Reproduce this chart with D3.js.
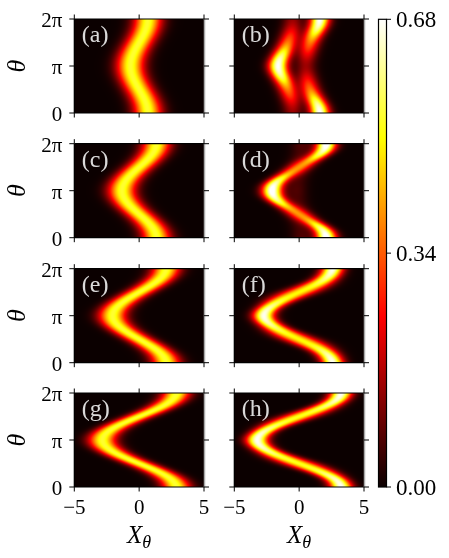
<!DOCTYPE html>
<html>
<head>
<meta charset="utf-8">
<script src="https://cdn.jsdelivr.net/npm/d3@7/dist/d3.min.js"></script>
<style>
  html, body { margin: 0; padding: 0; background: #fff; }
  #wrap { position: relative; width: 449px; height: 558px; overflow: hidden; }
  canvas, svg { position: absolute; left: 0; top: 0; }
  text { font-family: "Liberation Serif", serif; fill: #000; }
</style>
</head>
<body>
<div id="wrap"></div>
<script>
var labels = ["(a)", "(b)", "(c)", "(d)", "(e)", "(f)", "(g)", "(h)"];

// values at theta = 0, pi/8 ... pi; upper half of each panel mirrors the lower half
// single band panels: centre X, peak, width per row
var centreA = [0.68, 0.63, 0.48, 0.26, 0, -0.26, -0.48, -0.63, -0.68];
var centreC = [1.35, 1.25, 0.95, 0.52, 0, -0.52, -0.95, -1.25, -1.35];
var centreE = [2.1, 1.94, 1.48, 0.8, 0, -0.8, -1.48, -1.94, -2.1];
var centreG = [2.9, 2.68, 2.05, 1.11, 0, -1.11, -2.05, -2.68, -2.9];
var centreF = [2.6, 2.4, 1.9, 1.05, 0, -1.05, -1.9, -2.55, -2.8];
var centreH = [3.25, 3.05, 2.33, 1.26, 0, -1.26, -2.33, -3.05, -3.32];

var peakLeft = [0.54, 0.54, 0.54, 0.54, 0.54, 0.54, 0.54, 0.54, 0.54];
var sigmaLeft = [0.75, 0.75, 0.75, 0.75, 0.75, 0.75, 0.75, 0.75, 0.75];

var peakF = [0.68, 0.65, 0.58, 0.52, 0.5, 0.52, 0.58, 0.65, 0.68];
var sigmaF = [0.58, 0.6, 0.68, 0.85, 0.95, 0.85, 0.68, 0.6, 0.58];
var peakH = [0.68, 0.66, 0.6, 0.54, 0.52, 0.54, 0.6, 0.66, 0.68];
var sigmaH = [0.6, 0.6, 0.68, 0.85, 0.95, 0.85, 0.68, 0.6, 0.6];

// two lobe panels
var lobeLeftB = [-0.5, -0.52, -0.6, -0.72, -0.88, -1.08, -1.32, -1.55, -1.65];
var lobeRightB = [1.6, 1.52, 1.3, 1.06, 0.86, 0.72, 0.62, 0.56, 0.52];
var peakLeftB = [0.14, 0.17, 0.24, 0.31, 0.37, 0.46, 0.58, 0.66, 0.69];
var peakRightB = [0.69, 0.66, 0.58, 0.46, 0.37, 0.31, 0.24, 0.17, 0.14];
var sigmaB = [0.52, 0.52, 0.52, 0.52, 0.52, 0.52, 0.52, 0.52, 0.52];

var lobeLeftD = [0.2, 0.15, 0.1, 0, -0.3, -0.8, -1.5, -2, -2.12];
var lobeRightD = [2.1, 2, 1.5, 0.8, 0.3, 0, -0.1, -0.15, -0.2];
var peakLeftD = [0.07, 0.06, 0.06, 0.1, 0.24, 0.4, 0.56, 0.67, 0.72];
var peakRightD = [0.72, 0.67, 0.56, 0.4, 0.24, 0.1, 0.06, 0.06, 0.07];
var sigmaD = [0.55, 0.55, 0.55, 0.55, 0.55, 0.55, 0.55, 0.55, 0.55];

var noLobe = [0, 0, 0, 0, 0, 0, 0, 0, 0];

var xTicks = [-5, 0, 5];
var yTicks = [0, 1, 2];
var yTickLabels = ["0", "\u03c0", "2\u03c0"];
var barTicks = [0, 0.34, 0.68];
var barTickLabels = ["0.00", "0.34", "0.68"];

// matplotlib hot
var hotStops = [0, 0.365, 0.746, 1];
var hotColors = ["#0b0000", "#ff0000", "#ffff00", "#ffffff"];
var vmax = 0.68;

var panels = [
  [centreA, peakLeft, sigmaLeft, noLobe, noLobe],
  [lobeLeftB, peakLeftB, sigmaB, lobeRightB, peakRightB],
  [centreC, peakLeft, sigmaLeft, noLobe, noLobe],
  [lobeLeftD, peakLeftD, sigmaD, lobeRightD, peakRightD],
  [centreE, peakLeft, sigmaLeft, noLobe, noLobe],
  [centreF, peakF, sigmaF, noLobe, noLobe],
  [centreG, peakLeft, sigmaLeft, noLobe, noLobe],
  [centreH, peakH, sigmaH, noLobe, noLobe]
];

var colLeft = [74.3, 234.3], panelW = 129.7;
var rowTop = [19, 143.7, 268.7, 393], panelH = 94;

var color = d3.scaleLinear()
    .domain(hotStops.map(function(d) { return d * vmax; }))
    .range(hotColors)
    .clamp(true);

var wrap = d3.select("#wrap");
var canvas = wrap.append("canvas").attr("width", 449).attr("height", 558);
var ctx = canvas.node().getContext("2d");
var svg = wrap.append("svg").attr("width", 449).attr("height", 558);

// row value lookup over the whole panel, 0 to 2 pi
function rowScale(values) {
  var vals = values.concat(values.slice(0, -1).reverse());
  return d3.scaleSequential(d3.interpolateBasis(vals)).domain([0, 2]);
}

function drawCells(p, x, y) {
  var c1 = rowScale(p[0]), h1 = rowScale(p[1]), s = rowScale(p[2]), c2 = rowScale(p[3]), h2 = rowScale(p[4]);
  var x0 = Math.round(x.range()[0]), x1 = Math.round(x.range()[1]);
  var y0 = Math.round(y.range()[1]), y1 = Math.round(y.range()[0]);
  for (var py = y0; py < y1; py++) {
    var t = y.invert(py + 0.5);
    for (var px = x0; px < x1; px++) {
      var v = x.invert(px + 0.5);
      var a = (v - c1(t)) / s(t), b = (v - c2(t)) / s(t);
      ctx.fillStyle = color(h1(t) * Math.exp(-a * a / 2) + h2(t) * Math.exp(-b * b / 2));
      ctx.fillRect(px, py, 1, 1);
    }
  }
}

function tickSet(g, ticks, pos, horizontal, size) {
  g.selectAll("line").data(ticks).enter().append("line")
    .attr("x1", function(d) { return horizontal ? pos(d) : 0; })
    .attr("x2", function(d) { return horizontal ? pos(d) : size; })
    .attr("y1", function(d) { return horizontal ? 0 : pos(d); })
    .attr("y2", function(d) { return horizontal ? size : pos(d); })
    .attr("stroke", "#000")
    .attr("stroke-width", 1);
}

panels.forEach(function(p, i) {
  var col = i % 2, row = Math.floor(i / 2);
  var left = colLeft[col], top = rowTop[row];

  var x = d3.scaleLinear().domain([-5, 5]).range([left, left + panelW]);
  var y = d3.scaleLinear().domain([0, 2]).range([top + panelH, top]);

  drawCells(p, x, y);

  var g = svg.append("g");

  // top and bottom spines are heavier than the ticks
  g.append("line").attr("x1", left).attr("x2", left + panelW).attr("y1", top).attr("y2", top)
    .attr("stroke", "#000").attr("stroke-width", 1.2);
  g.append("line").attr("x1", left).attr("x2", left + panelW).attr("y1", top + panelH).attr("y2", top + panelH)
    .attr("stroke", "#000").attr("stroke-width", 1.2);
  g.append("line").attr("x1", left).attr("x2", left).attr("y1", top).attr("y2", top + panelH)
    .attr("stroke", "#000").attr("stroke-width", 1.2);
  g.append("line").attr("x1", left + panelW + 0.5).attr("x2", left + panelW + 0.5).attr("y1", top).attr("y2", top + panelH)
    .attr("stroke", "#aaa").attr("stroke-width", 1.5);

  tickSet(g.append("g").attr("transform", "translate(0," + (top - 4.5) + ")"), xTicks, x, true, 4.5);
  tickSet(g.append("g").attr("transform", "translate(0," + (top + panelH) + ")"), xTicks, x, true, 4.5);
  tickSet(g.append("g").attr("transform", "translate(" + (left - 5) + ",0)"), yTicks, y, false, 5);
  tickSet(g.append("g").attr("transform", "translate(" + (left + panelW) + ",0)"), yTicks, y, false, 5);

  g.append("text")
    .attr("x", left + 7.5)
    .attr("y", top + 23)
    .style("fill", "#fff")
    .style("fill-opacity", 0.85)
    .style("font-size", "24px")
    .text(labels[i]);

  if (col == 0) {
    g.selectAll(".ylab").data(yTicks).enter().append("text")
      .attr("class", "ylab")
      .attr("x", left - 12)
      .attr("y", function(d) { return y(d) + 8; })
      .attr("text-anchor", "end")
      .style("font-size", "21px")
      .text(function(d, j) { return yTickLabels[j]; });

    g.append("text")
      .attr("transform", "translate(" + 25 + "," + (top + panelH / 2) + ") rotate(-90)")
      .attr("text-anchor", "middle")
      .style("font-size", "26px")
      .style("font-style", "italic")
      .text("\u03b8");
  }

  if (row == 3) {
    g.selectAll(".xlab").data(xTicks).enter().append("text")
      .attr("class", "xlab")
      .attr("x", function(d) { return x(d); })
      .attr("y", top + panelH + 27)
      .attr("text-anchor", "middle")
      .style("font-size", "21px")
      .text(function(d) { return d < 0 ? "\u2212" + (-d) : d; });

    var lab = g.append("text")
      .attr("x", x(0))
      .attr("y", top + panelH + 56)
      .attr("text-anchor", "middle")
      .style("font-size", "25px")
      .style("font-style", "italic");
    lab.append("tspan").text("X");
    lab.append("tspan").attr("dy", 5).style("font-size", "18px").text("\u03b8");
  }
});

// colourbar
var barLeft = 378.5, barW = 8;
var barScale = d3.scaleLinear().domain([0, vmax]).range([487, 19.3]);
var barSteps = d3.range(Math.round(barScale(vmax)), Math.round(barScale(0)));

svg.append("g").selectAll("rect").data(barSteps).enter().append("rect")
  .attr("x", barLeft)
  .attr("y", function(d) { return d; })
  .attr("width", barW)
  .attr("height", 1)
  .attr("fill", function(d) { return color(barScale.invert(d + 0.5)); });

svg.append("rect")
  .attr("x", barLeft)
  .attr("y", barScale(vmax))
  .attr("width", barW)
  .attr("height", barScale(0) - barScale(vmax))
  .attr("fill", "none")
  .attr("stroke", "#000")
  .attr("stroke-width", 1.2);

tickSet(svg.append("g").attr("transform", "translate(" + (barLeft + barW) + ",0)"), barTicks, barScale, false, 4.5);

svg.selectAll(".barlab").data(barTicks).enter().append("text")
  .attr("class", "barlab")
  .attr("x", 396)
  .attr("y", function(d) { return barScale(d) + 8; })
  .style("font-size", "23px")
  .text(function(d, j) { return barTickLabels[j]; });
</script>
</body>
</html>
